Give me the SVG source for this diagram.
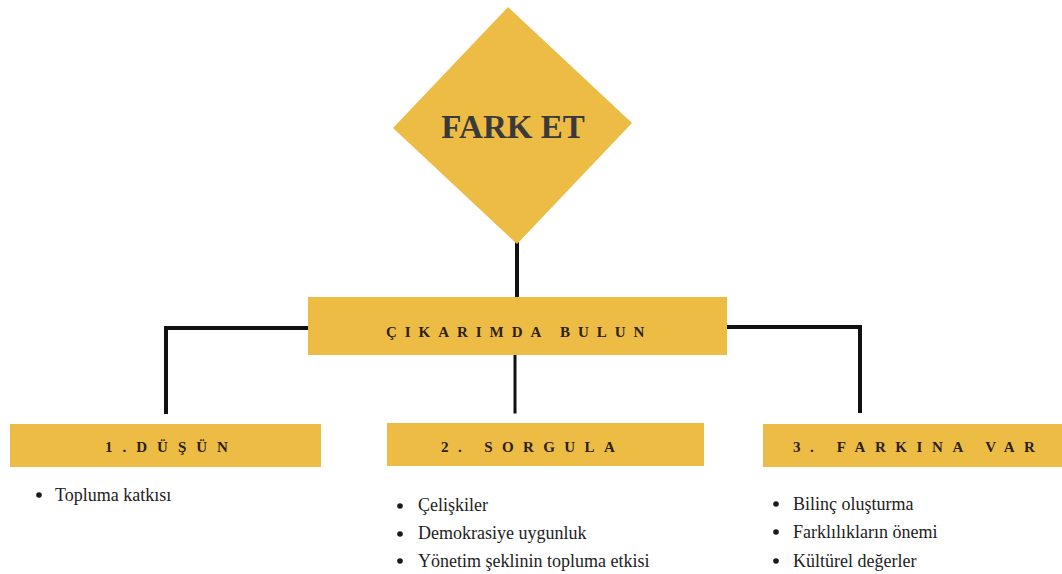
<svg xmlns="http://www.w3.org/2000/svg" width="1062" height="574" viewBox="0 0 1062 574">
  <style>
    .fill { fill: #EDBC45; }
    .serif { font-family: "Liberation Serif", "DejaVu Serif", serif; }
    .title { font-weight: bold; fill: #3a3a3a; }
    .head { font-weight: bold; fill: #2b221c; font-size: 15px; }
    .item { fill: #222; font-size: 18px; }
    .dot { fill: #1a1a1a; }
    .wire { stroke: #111; fill: none; stroke-linecap: square; }
  </style>
  <rect width="1062" height="574" fill="#ffffff"/>

  <!-- connectors -->
  <g id="connectors">
    <line class="wire" x1="517" y1="244" x2="517" y2="296" stroke-width="4"/>
    <polyline class="wire" points="308,328 166,328 166,412" stroke-width="4"/>
    <polyline class="wire" points="727,327 860,327 860,411" stroke-width="4"/>
    <line class="wire" x1="515" y1="356" x2="515" y2="412" stroke-width="3"/>
  </g>

  <g id="fark-et">
    <polygon class="fill" points="508,7 632,123 517,244 393,128"/>
    <text class="serif title" x="513" y="138" font-size="33" text-anchor="middle">FARK ET</text>
  </g>

  <g id="cikarimda-bulun">
    <rect class="fill" x="308" y="297" width="419" height="58"/>
    <text class="serif head" x="386" y="337" font-size="18" letter-spacing="7.95">ÇIKARIMDA BULUN</text>
  </g>

  <g id="dusun">
    <rect class="fill" x="10" y="424" width="311" height="43"/>
    <text class="serif head" x="105" y="452" letter-spacing="10">1.DÜŞÜN</text>
    <circle class="dot" cx="39" cy="495" r="2.8"/>
    <text class="serif item" x="55" y="501">Topluma katkısı</text>
  </g>

  <g id="sorgula">
    <rect class="fill" x="387" y="423" width="317" height="43"/>
    <text class="serif head" x="441" y="452" letter-spacing="9.4" xml:space="preserve">2. SORGULA</text>
    <circle class="dot" cx="400" cy="506" r="2.8"/>
    <text class="serif item" x="418" y="511">Çelişkiler</text>
    <circle class="dot" cx="400" cy="534" r="2.8"/>
    <text class="serif item" x="418" y="539">Demokrasiye uygunluk</text>
    <circle class="dot" cx="400" cy="561" r="2.8"/>
    <text class="serif item" x="418" y="567">Yönetim şeklinin topluma etkisi</text>
  </g>

  <g id="farkina-var">
    <rect class="fill" x="763" y="424" width="299" height="43"/>
    <text class="serif head" x="793" y="452" letter-spacing="9.6" xml:space="preserve">3. FARKINA VAR</text>
    <circle class="dot" cx="776" cy="504" r="2.8"/>
    <text class="serif item" x="793" y="510">Bilinç oluşturma</text>
    <circle class="dot" cx="776" cy="532" r="2.8"/>
    <text class="serif item" x="793" y="538">Farklılıkların önemi</text>
    <circle class="dot" cx="776" cy="561" r="2.8"/>
    <text class="serif item" x="793" y="567">Kültürel değerler</text>
  </g>
</svg>
